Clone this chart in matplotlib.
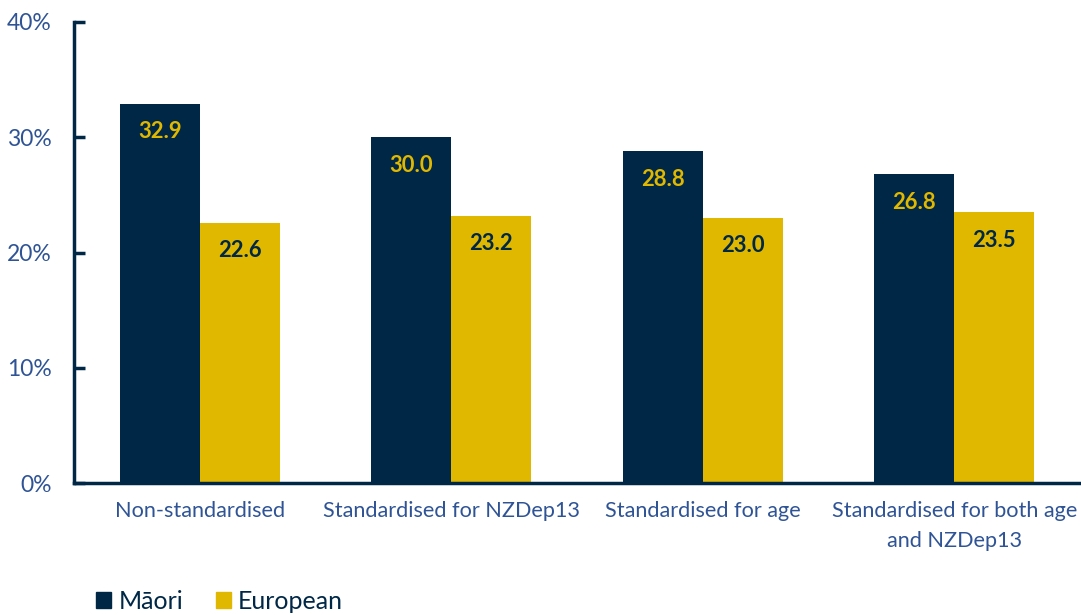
import matplotlib
matplotlib.use("Agg")
import matplotlib.pyplot as plt
import numpy as np
from matplotlib.patches import Patch

categories = ["Non-standardised", "Standardised for NZDep13", "Standardised for age",
              "Standardised for both age\nand NZDep13"]
maori = [32.9, 30.0, 28.8, 26.8]
european = [22.6, 23.2, 23.0, 23.5]
yticks = [0, 10, 20, 30, 40]

NAVY = "#002846"
GOLD = "#E1B800"
TXT = "#2F5496"
FONT = ["Lato", "DejaVu Sans"]
plt.rcParams['font.family'] = FONT

fig = plt.figure(figsize=(10.81, 6.15), dpi=100)
ax = fig.add_axes([74/1081, 1-483/615, 1006/1081, 461/615])

x = np.arange(len(categories))
w = 0.318
ax.bar(x - w/2, maori, w, color=NAVY)
ax.bar(x + w/2, european, w, color=GOLD)

for xi, v in zip(x, maori):
    ax.annotate(f"{v:.1f}", (xi - w/2, v), xytext=(0, -28), textcoords="offset pixels",
                ha="center", va="center", color=GOLD, fontsize=15.8, fontweight="bold")
for xi, v in zip(x, european):
    ax.annotate(f"{v:.1f}", (xi + w/2, v), xytext=(0, -28), textcoords="offset pixels",
                ha="center", va="center", color=NAVY, fontsize=15.8, fontweight="bold")

ax.set_xlim(-0.5, 3.5)
ax.set_ylim(0, 40)
ax.set_yticks(yticks)
ax.set_yticklabels([f"{t}%" for t in yticks], color=TXT, fontsize=16.5)
ax.set_xticks(x)
ax.set_xticklabels(categories, color=TXT, fontsize=15.6, linespacing=1.6)
ax.tick_params(axis='x', length=0, pad=13)
ax.tick_params(axis='y', direction='in', length=8, width=2.5, color=NAVY, pad=16)
for s in ['top', 'right']:
    ax.spines[s].set_visible(False)
for s in ['left', 'bottom']:
    ax.spines[s].set_color(NAVY)
    ax.spines[s].set_linewidth(2.5)

handles = [Patch(color=NAVY, label="Māori"), Patch(color=GOLD, label="European")]
fig.legend(handles=handles, loc="lower left", bbox_to_anchor=(96/1081, 2/615), ncol=2,
           frameon=False, fontsize=18, labelcolor=NAVY, handlelength=0.6, handleheight=0.6,
           handletextpad=0.3, columnspacing=1.3, borderaxespad=0.0, borderpad=0.0)

fig.savefig("out.png", dpi=100)
